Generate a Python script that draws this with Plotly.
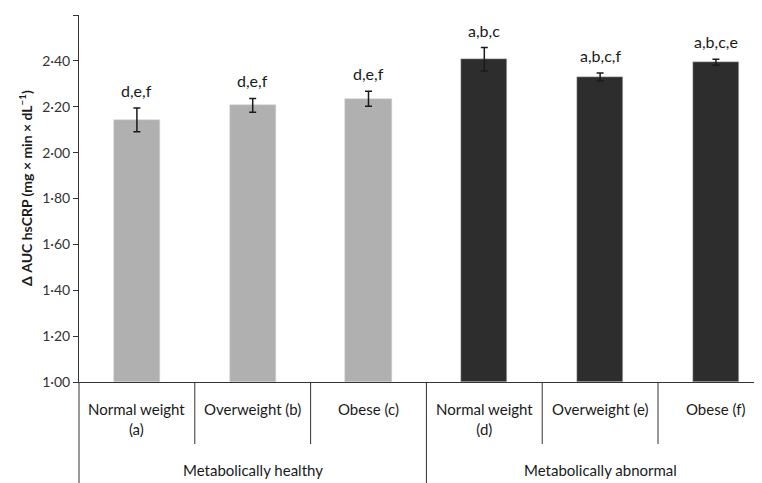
import plotly.graph_objects as go

categories = ["Normal weight<br>(a)", "Overweight (b)", "Obese (c)",
              "Normal weight<br>(d)", "Overweight (e)", "Obese (f)"]
groups = ["Metabolically healthy", "Metabolically abnormal"]
values = [2.143, 2.206, 2.235, 2.407, 2.330, 2.394]
errors = [0.052, 0.030, 0.033, 0.051, 0.017, 0.013]
sig_labels = ["d,e,f", "d,e,f", "d,e,f", "a,b,c", "a,b,c,f", "a,b,c,e"]
bar_colors = ["#b0b0b0", "#b0b0b0", "#b0b0b0", "#2d2d2d", "#2d2d2d", "#2d2d2d"]
tick_vals = [1.0, 1.2, 1.4, 1.6, 1.8, 2.0, 2.2, 2.4, 2.6]
tick_text = ["1·00", "1·20", "1·40", "1·60", "1·80", "2·00", "2·20", "2·40", "2·60"]

FONT = "Lato"
xs = list(range(len(values)))
PH = 367.0  # plot height in px

fig = go.Figure()
fig.add_trace(go.Bar(
    x=xs, y=[v - 1.0 for v in values], base=1.0, width=0.4,
    marker=dict(color=bar_colors, line=dict(color="#d0d0d0", width=0.5)),
    error_y=dict(type="data", array=errors, color="#1a1a1a", thickness=1.5, width=3.5),
    hoverinfo="skip", showlegend=False,
))

annotations = []
for x, v, e, t in zip(xs, values, errors, sig_labels):
    annotations.append(dict(x=x, y=v + e, xref="x", yref="y", text=t, showarrow=False,
                            yanchor="bottom", yshift=6,
                            font=dict(family=FONT, size=16, color="#1a1a1a")))
for x, c in zip(xs, categories):
    annotations.append(dict(x=x, y=-16 / PH, xref="x", yref="paper", text=c, showarrow=False,
                            yanchor="top", align="center",
                            font=dict(family=FONT, size=15, color="#1a1a1a")))
for i, g in enumerate(groups):
    annotations.append(dict(x=1 + 3 * i, y=-88 / PH, xref="x", yref="paper", text=g,
                            showarrow=False, yanchor="middle",
                            font=dict(family=FONT, size=15, color="#1a1a1a")))
annotations.append(dict(x=-54 / 683, y=(382 - 188) / PH, xref="paper", yref="paper",
                        text="<b>Δ AUC hsCRP (mg × min × dL<sup>−1</sup>)</b>",
                        textangle=-90, showarrow=False, xanchor="center", yanchor="middle",
                        font=dict(family=FONT, size=14, color="#1a1a1a")))

shapes = []
for b in [0.5, 1.5, 3.5, 4.5]:
    shapes.append(dict(type="line", xref="x", yref="paper", x0=b, x1=b, y0=0, y1=-62 / PH,
                       line=dict(color="#333333", width=1)))
shapes.append(dict(type="line", xref="x", yref="paper", x0=2.5, x1=2.5, y0=0, y1=-0.3,
                   line=dict(color="#333333", width=1)))
shapes.append(dict(type="line", xref="paper", yref="paper", x0=0, x1=0, y0=0, y1=-0.3,
                   line=dict(color="#333333", width=1)))

fig.update_layout(
    width=754, height=475,
    margin=dict(l=71, r=0, t=7, b=101),
    paper_bgcolor="white", plot_bgcolor="white",
    font=dict(family=FONT, color="#1a1a1a"),
    xaxis=dict(range=[-0.5, 5.398], showticklabels=False, ticks="", showgrid=False,
               zeroline=False, showline=True, linecolor="#333333", linewidth=1),
    yaxis=dict(range=[1.0, 2.6], tickvals=tick_vals, ticktext=tick_text, ticks="outside",
               ticklen=5, tickcolor="#333333", showgrid=False, zeroline=False,
               showline=True, linecolor="#333333", linewidth=1,
               tickfont=dict(family=FONT, size=14, color="#333333")),
    annotations=annotations, shapes=shapes, bargap=0,
)

fig.write_html("out.html")
